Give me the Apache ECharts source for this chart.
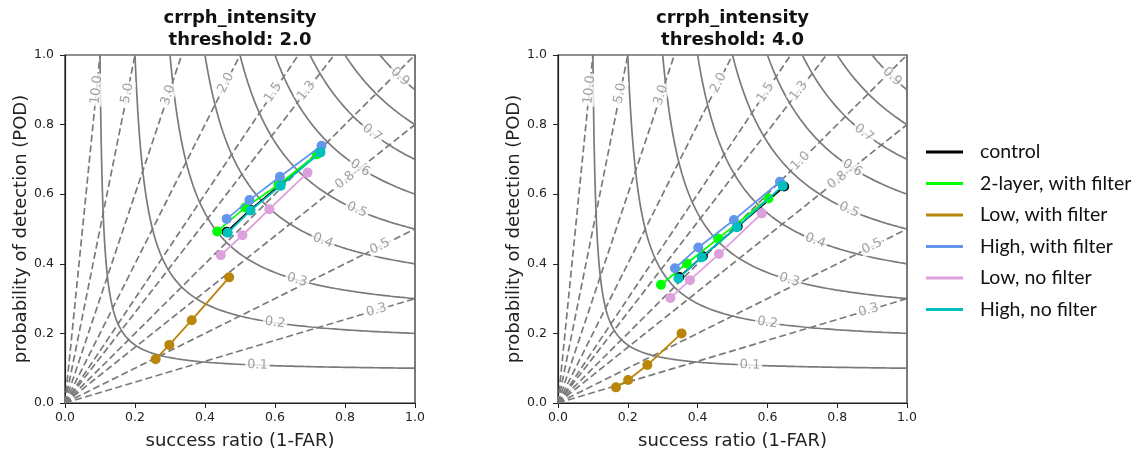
<!DOCTYPE html>
<html>
<head>
<meta charset="utf-8">
<script src="https://cdn.jsdelivr.net/npm/echarts@6/dist/echarts.min.js"></script>
<style>html,body{margin:0;padding:0;background:#fff}#c{width:1144px;height:450px}</style>
</head>
<body>
<div id="c"></div>
<script>
// ---------- data ----------
const seriesNames = ['control', '2-layer, with filter', 'Low, with filter', 'High, with filter', 'Low, no filter', 'High, no filter'];
const panelTitles = ['crrph_intensity\nthreshold: 2.0', 'crrph_intensity\nthreshold: 4.0'];
const tickValues = [0, 0.2, 0.4, 0.6, 0.8, 1.0];

// threshold 2.0 : [success ratio, POD]
const control_t2      = [[0.462,0.492],[0.529,0.555],[0.614,0.626],[0.729,0.722]];
const twoLayer_t2     = [[0.435,0.493],[0.515,0.562],[0.610,0.627],[0.720,0.715]];
const lowFilter_t2    = [[0.259,0.126],[0.298,0.167],[0.362,0.238],[0.469,0.361]];
const highFilter_t2   = [[0.462,0.529],[0.527,0.583],[0.614,0.650],[0.733,0.739]];
const lowNoFilter_t2  = [[0.445,0.425],[0.507,0.482],[0.584,0.557],[0.693,0.662]];
const highNoFilter_t2 = [[0.465,0.489],[0.530,0.553],[0.616,0.624],[0.730,0.720]];

// threshold 4.0
const control_t4      = [[0.348,0.362],[0.415,0.422],[0.515,0.507],[0.648,0.622]];
const twoLayer_t4     = [[0.295,0.340],[0.369,0.401],[0.459,0.473],[0.603,0.588]];
const lowFilter_t4    = [[0.166,0.045],[0.201,0.066],[0.256,0.109],[0.354,0.200]];
const highFilter_t4   = [[0.335,0.387],[0.402,0.447],[0.504,0.526],[0.636,0.636]];
const lowNoFilter_t4  = [[0.322,0.302],[0.378,0.353],[0.461,0.428],[0.584,0.545]];
const highNoFilter_t4 = [[0.345,0.358],[0.412,0.419],[0.512,0.505],[0.644,0.624]];

// performance-diagram background levels
const csiLevels  = [0.1, 0.2, 0.3, 0.4, 0.5, 0.6, 0.7, 0.8, 0.9];
const biasLevels = [0.3, 0.5, 0.8, 1.0, 1.3, 1.5, 2.0, 3.0, 5.0, 10.0];
// success ratio where each contour label sits (null = no label)
const csiLabelSR  = [0.55, 0.60, 0.663, 0.737, 0.834, 0.843, 0.877, null, 0.957];
const biasLabelSR = [0.89, 0.90, 0.80, 0.695, 0.69, 0.595, 0.46, 0.295, 0.178, 0.09];

const panelData = [
  [control_t2, twoLayer_t2, lowFilter_t2, highFilter_t2, lowNoFilter_t2, highNoFilter_t2],
  [control_t4, twoLayer_t4, lowFilter_t4, highFilter_t4, lowNoFilter_t4, highNoFilter_t4]
];

// ---------- styling ----------
const colors = ['#000000', '#00ff00', '#b8860b', '#6495ed', '#dda0dd', '#00bfbf'];
const grids = [
  {left: 65, top: 55, width: 350, height: 348},
  {left: 558, top: 55, width: 349, height: 348}
];
const FONT = 'DejaVu Sans';

const series = [];
const xAxes = [], yAxes = [], titles = [];

grids.forEach((g, p) => {
  xAxes.push({
    gridIndex: p, type: 'value', min: 0, max: 1, interval: 0.2,
    name: 'success ratio (1-FAR)', nameLocation: 'middle', nameGap: 29,
    nameTextStyle: {fontFamily: FONT, fontSize: 18, color: '#222'},
    axisLine: {show: true, lineStyle: {color: '#222', width: 1.2}},
    axisTick: {show: true, length: 5, lineStyle: {color: '#222'}},
    axisLabel: {fontFamily: FONT, fontSize: 12.5, color: '#222', margin: 8, formatter: v => v.toFixed(1)},
    splitLine: {show: false}
  });
  yAxes.push({
    gridIndex: p, type: 'value', min: 0, max: 1, interval: 0.2,
    name: 'probability of detection (POD)', nameLocation: 'middle', nameGap: 34,
    nameTextStyle: {fontFamily: FONT, fontSize: 18, color: '#222'},
    axisLine: {show: true, lineStyle: {color: '#222', width: 1.2}},
    axisTick: {show: true, length: 5, lineStyle: {color: '#222'}},
    axisLabel: {fontFamily: FONT, fontSize: 12.5, color: '#222', margin: 11, formatter: v => v.toFixed(1)},
    splitLine: {show: false}
  });
  titles.push({
    text: panelTitles[p], left: g.left + g.width / 2, top: 7, textAlign: 'center', padding: 0,
    textStyle: {fontFamily: FONT, fontSize: 18, fontWeight: 'bold', color: '#111', lineHeight: 22}
  });

  // CSI contours
  csiLevels.forEach(c => {
    const pts = [];
    const N = 160;
    for (let i = 0; i <= N; i++) {
      const t = i / N;
      const sr = c + (1 - c) * t * t;
      const pod = 1 / (1 / c + 1 - 1 / sr);
      pts.push([sr, Math.min(pod, 1)]);
    }
    series.push({
      type: 'line', xAxisIndex: p, yAxisIndex: p, data: pts, showSymbol: false, silent: true,
      lineStyle: {color: '#7a7a7a', width: 1.7}, z: 1, animation: false
    });
  });
  // bias lines
  biasLevels.forEach(b => {
    const end = b >= 1 ? [1 / b, 1] : [1, b];
    series.push({
      type: 'line', xAxisIndex: p, yAxisIndex: p, data: [[0, 0], end], showSymbol: false, silent: true,
      lineStyle: {color: '#7a7a7a', width: 1.7, type: [7, 3.5]}, z: 1, animation: false
    });
  });
  // contour labels
  const sx = g.width, sy = g.height;
  const labels = [];
  csiLevels.forEach((c, i) => {
    const sr = csiLabelSR[i];
    if (sr == null) return;
    const pod = 1 / (1 / c + 1 - 1 / sr);
    const slope = -(pod * pod) / (sr * sr) * sy / sx;
    labels.push({value: [sr, pod], label: {formatter: c.toFixed(1), rotate: Math.atan(slope) * 180 / Math.PI}});
  });
  biasLevels.forEach((b, i) => {
    if (p === 0 && b === 1.0) return; // hidden under the data on the left panel
    const sr = biasLabelSR[i];
    const pod = b * sr;
    const slope = b * sy / sx;
    labels.push({value: [sr, pod], label: {formatter: b.toFixed(1), rotate: Math.atan(slope) * 180 / Math.PI}});
  });
  series.push({
    type: 'scatter', xAxisIndex: p, yAxisIndex: p, data: labels, symbolSize: 0, silent: true, z: 2,
    label: {show: true, position: 'inside', color: '#8a8a8a', fontFamily: FONT, fontSize: 13,
      backgroundColor: '#fff', padding: [0, 2]}, animation: false
  });

  // data series
  seriesNames.forEach((name, k) => {
    series.push({
      name: name, type: 'line', xAxisIndex: p, yAxisIndex: p, data: panelData[p][k],
      symbol: 'circle', symbolSize: 10, showSymbol: true,
      itemStyle: {color: colors[k]}, lineStyle: {color: colors[k], width: 1.8},
      z: 5 + k, animation: false
    });
  });
});

const chart = echarts.init(document.getElementById('c'), null, {renderer: 'canvas'});
chart.setOption({
  animation: false,
  backgroundColor: '#fff',
  title: titles,
  grid: grids.map(g => Object.assign({show: true, borderColor: '#222', borderWidth: 1.2, backgroundColor: 'transparent',
    containLabel: false, outerBoundsMode: 'none'}, g)),
  xAxis: xAxes,
  yAxis: yAxes,
  legend: {
    data: seriesNames.map(n => ({name: n, icon: 'rect'})),
    orient: 'vertical', left: 926, top: 141, padding: 0,
    itemWidth: 37, itemHeight: 3, itemGap: 9.5,
    textStyle: {fontFamily: 'Lato', fontSize: 19.5, color: '#111', lineHeight: 22, padding: [0, 0, 0, 12]}
  },
  series: series
});
</script>
</body>
</html>
